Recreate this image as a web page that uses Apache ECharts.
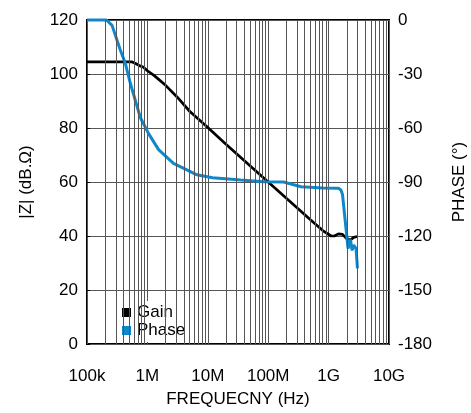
<!DOCTYPE html>
<html>
<head>
<meta charset="utf-8">
<script src="https://cdn.jsdelivr.net/npm/echarts@6/dist/echarts.min.js"></script>
<style>
  html, body { margin: 0; padding: 0; background: #fff; }
  #chart { width: 471px; height: 413px; }
</style>
</head>
<body>
<div id="chart"></div>
<script>
// Impedance magnitude and phase versus frequency
const gainFreq = [1e5, 5.5e5, 6.5e5, 7.5e5, 8.5e5, 1.0e6, 1.3e6, 2e6, 3.1e6, 5e6, 1e7, 2e7, 5e7, 1e8, 2e8, 5e8, 8e8, 1.1e9, 1.25e9, 1.45e9, 1.7e9, 2.0e9, 2.3e9, 2.6e9, 3.0e9];
const gainDb = [104.5, 104.5, 103.8, 103.0, 102.6, 101.2, 99.4, 95.8, 91.5, 86.2, 80.2, 74, 66, 60, 54, 46, 42, 40, 40, 40.8, 40.6, 39, 38.5, 39.5, 39.8];

const phaseFreq = [1e5, 2.1e5, 2.6e5, 3.5e5, 4.3e5, 5.2e5, 7.6e5, 1.04e6, 1.53e6, 2.7e6, 4e6, 6.6e6, 1.2e7, 3.5e7, 8.5e7, 1.8e8, 3.5e8, 8e8, 1.45e9, 1.6e9, 1.7e9, 1.93e9, 2.1e9, 2.3e9, 2.45e9, 2.6e9, 2.85e9, 3.0e9];
const phaseDeg = [0, 0, -3, -16, -24, -35, -54, -63, -72, -79.6, -82.4, -86, -87.6, -88.9, -89.8, -90, -92.6, -93.3, -93.5, -94.5, -97, -115, -127, -122, -128, -125, -127, -138];

const freqTickLabels = ['100k', '1M', '10M', '100M', '1G', '10G'];

const FONT = "'Liberation Sans', Arial, Helvetica, sans-serif";
const GRID_COLOR = '#555';

// minor vertical grid lines at 2..9 x each decade
const minorLines = [];
for (let d = 5; d < 10; d++) {
  for (let m = 2; m <= 9; m++) {
    minorLines.push({ xAxis: m * Math.pow(10, d) });
  }
}

const chart = echarts.init(document.getElementById('chart'), null, { renderer: 'canvas' });

chart.setOption({
  animation: false,
  backgroundColor: '#fff',
  textStyle: { fontFamily: FONT },
  grid: {
    left: 87, right: 82, top: 20, bottom: 69,
    outerBoundsMode: 'none', containLabel: false,
    show: true, borderColor: '#000', borderWidth: 2, backgroundColor: 'transparent'
  },
  legend: {
    data: [
      { name: 'Gain', icon: 'rect', itemStyle: { color: '#000' } },
      { name: 'Phase', icon: 'rect', itemStyle: { color: '#1187c9' } }
    ],
    orient: 'vertical',
    left: 118, top: 301,
    itemWidth: 9, itemHeight: 9, itemGap: 1,
    padding: [3, 6, 3, 4],
    backgroundColor: '#fff',
    textStyle: { fontFamily: FONT, fontSize: 17, lineHeight: 17, color: '#000', padding: [0, 0, 0, 1] }
  },
  xAxis: {
    type: 'log', logBase: 10, min: 1e5, max: 1e10,
    name: 'FREQUECNY (Hz)', nameLocation: 'middle', nameGap: 47,
    nameTextStyle: { fontFamily: FONT, fontSize: 17, color: '#000' },
    axisLine: { show: false },
    axisTick: { show: false },
    axisLabel: {
      margin: 24, fontFamily: FONT, fontSize: 17, color: '#000',
      formatter: v => freqTickLabels[Math.round(Math.log10(v)) - 5] || ''
    },
    splitLine: { show: true, lineStyle: { color: GRID_COLOR, width: 1 } },
    minorSplitLine: { show: false }
  },
  yAxis: [
    {
      type: 'value', min: 0, max: 120, interval: 20, position: 'left',
      name: '|Z| (dB.Ω)', nameLocation: 'middle', nameGap: 52,
      nameTextStyle: { fontFamily: FONT, fontSize: 17, color: '#000' },
      axisLine: { show: false },
      axisTick: { show: true, inside: true, length: 3, lineStyle: { color: '#000' } },
      axisLabel: { margin: 9, fontFamily: FONT, fontSize: 17, color: '#000' },
      splitLine: { show: true, lineStyle: { color: GRID_COLOR, width: 1 } }
    },
    {
      type: 'value', min: -180, max: 0, interval: 30, position: 'right',
      name: 'PHASE (°)', nameLocation: 'middle', nameGap: 62,
      nameTextStyle: { fontFamily: FONT, fontSize: 17, color: '#000' },
      axisLine: { show: false },
      axisTick: { show: false },
      axisLabel: { margin: 9, fontFamily: FONT, fontSize: 17, color: '#000' },
      splitLine: { show: false }
    }
  ],
  series: [
    {
      name: 'minorGrid', type: 'line', data: [], silent: true,
      markLine: {
        silent: true, symbol: ['none', 'none'], label: { show: false },
        lineStyle: { color: GRID_COLOR, width: 1, type: 'solid' },
        emphasis: { disabled: true },
        data: minorLines
      }
    },
    {
      name: 'Gain', type: 'line', yAxisIndex: 0, showSymbol: false, smooth: false,
      lineStyle: { color: '#000', width: 2.7 }, itemStyle: { color: '#000' },
      data: gainFreq.map((f, i) => [f, gainDb[i]])
    },
    {
      name: 'Phase', type: 'line', yAxisIndex: 1, showSymbol: false, smooth: false, clip: false,
      lineStyle: { color: '#1187c9', width: 3 }, itemStyle: { color: '#1187c9' },
      data: phaseFreq.map((f, i) => [f, phaseDeg[i]])
    }
  ]
});
</script>
</body>
</html>
